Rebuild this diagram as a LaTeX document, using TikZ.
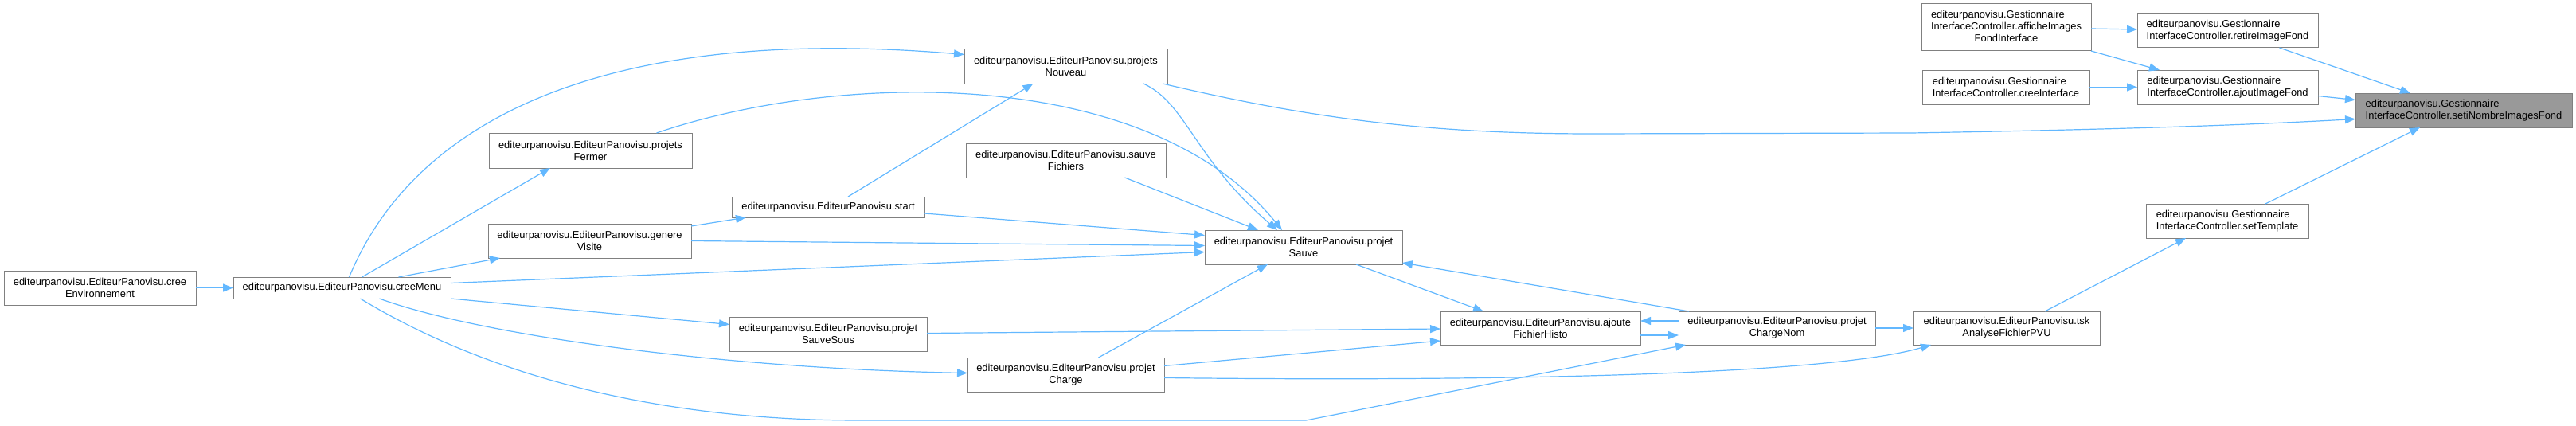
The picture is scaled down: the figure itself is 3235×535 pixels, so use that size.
\documentclass[tikz,border=0pt]{standalone}
\usepackage{fontspec}
\setmainfont{Liberation Sans}
\usepackage{xcolor}
\usepackage{tikz}
\usetikzlibrary{arrows.meta, calc}
\definecolor{callblue}{RGB}{99, 184, 255}
\definecolor{boxgray}{RGB}{128, 128, 128}
\definecolor{rootgray}{RGB}{153, 153, 153}

\begin{document}
\begin{tikzpicture}[x=1pt, y=-1pt,
  fn/.style={draw=boxgray, fill=white, line width=1pt, inner sep=0pt, outer sep=0pt,
    align=center, minimum height=43pt, font=\fontsize{12.9}{15}\selectfont},
  gest/.style={fn, align=left},
  root/.style={gest, fill=rootgray},
  call/.style={draw=callblue, line width=1.2pt, -{Triangle[length=13pt, width=10pt]}}]
\useasboundingbox (0,0) rectangle (3235,535);

\node[fn, minimum width=241pt] (creeEnv) at (125.5,361.5) {editeurpanovisu.EditeurPanovisu.cree\\Environnement};
\node[fn, minimum width=273pt, minimum height=27pt] (creeMenu) at (429.5,361.5) {editeurpanovisu.EditeurPanovisu.creeMenu};
\node[fn, minimum width=255pt, minimum height=44pt] (projetsFermer) at (741.5,189) {editeurpanovisu.EditeurPanovisu.projets\\Fermer};
\node[fn, minimum width=255pt] (genereVisite) at (740.5,302.5) {editeurpanovisu.EditeurPanovisu.genere\\Visite};
\node[fn, minimum width=242pt, minimum height=26pt] (start) at (1040,260) {editeurpanovisu.EditeurPanovisu.start};
\node[fn, minimum width=248pt] (projetSauveSous) at (1040,419.5) {editeurpanovisu.EditeurPanovisu.projet\\SauveSous};
\node[fn, minimum width=255pt] (projetsNouveau) at (1338.5,83.5) {editeurpanovisu.EditeurPanovisu.projets\\Nouveau};
\node[fn, minimum width=251pt] (sauveFichiers) at (1338.5,201.5) {editeurpanovisu.EditeurPanovisu.sauve\\Fichiers};
\node[fn, minimum width=247pt] (projetCharge) at (1338.5,470.5) {editeurpanovisu.EditeurPanovisu.projet\\Charge};
\node[fn, minimum width=248pt] (projetSauve) at (1637,310.5) {editeurpanovisu.EditeurPanovisu.projet\\Sauve};
\node[fn, minimum width=251pt, minimum height=42pt] (ajouteFichierHisto) at (1934.5,412) {editeurpanovisu.EditeurPanovisu.ajoute\\FichierHisto};
\node[fn, minimum width=247pt, minimum height=42pt] (projetChargeNom) at (2231.5,412) {editeurpanovisu.EditeurPanovisu.projet\\ChargeNom};
\node[fn, minimum width=234pt, minimum height=42pt] (tskAnalyse) at (2520,412) {editeurpanovisu.EditeurPanovisu.tsk\\AnalyseFichierPVU};
\node[gest, minimum width=204pt] (setTemplate) at (2797,277.5) {editeurpanovisu.Gestionnaire\\InterfaceController.setTemplate};
\node[fn, minimum width=213pt, minimum height=59pt] (afficheImages) at (2519.5,34.5) {\begin{tabular}{@{}l@{}}editeurpanovisu.Gestionnaire\\InterfaceController.afficheImages\\\multicolumn{1}{@{}c@{}}{FondInterface}\end{tabular}};
\node[gest, minimum width=210pt] (creeInterface) at (2519,109.5) {editeurpanovisu.Gestionnaire\\InterfaceController.creeInterface};
\node[gest, minimum width=227pt] (retireImageFond) at (2797.5,38.5) {editeurpanovisu.Gestionnaire\\InterfaceController.retireImageFond};
\node[gest, minimum width=227pt] (ajoutImageFond) at (2797.5,109.5) {editeurpanovisu.Gestionnaire\\InterfaceController.ajoutImageFond};
\node[root, minimum width=272pt] (setiNombre) at (3094,138.5) {editeurpanovisu.Gestionnaire\\InterfaceController.setiNombreImagesFond};

\draw[call] (creeEnv.east) -- (creeMenu.west);
\draw[call] ($(creeMenu.north)+(9,0)$) .. controls +(82,-198) and +(-451,-38) .. ($(projetsNouveau.west)+(0,-15)$);
\draw[call] ($(creeMenu.north)+(25,0)$) -- ($(projetsFermer.south west)+(77,0)$);
\draw[call] ($(creeMenu.north)+(71,0)$) -- ($(genereVisite.south west)+(15,0)$);
\draw[call] ($(creeMenu.east)+(0,-6)$) -- ($(projetSauve.west)+(0,6)$);
\draw[call] (creeMenu.south east) -- ($(projetSauveSous.west)+(0,-12)$);
\draw[call] ($(creeMenu.south)+(47,0)$) .. controls +(123,45) and +(-315,-6) .. ($(projetCharge.west)+(0,-2)$);
\draw[call] ($(creeMenu.south)+(23,0)$) .. controls +(107,65) and +(-320,0) .. (1080,528) -- (1640,528) -- ($(projetChargeNom.south west)+(9,0)$);
\draw[call] ($(genereVisite.north east)+(0,3)$) -- ($(start.south west)+(18,0)$);
\draw[call] (genereVisite.east) -- ($(projetSauve.west)+(0,-2)$);
\draw[call] ($(start.north)+(25,0)$) -- ($(projetsNouveau.south)+(-41,0)$);
\draw[call] ($(start.east)+(0,8)$) -- ($(projetSauve.west)+(0,-15)$);
\draw[call] ($(projetsFermer.north)+(83,0)$) .. controls +(225,-77) and +(-170,-209) .. ($(projetSauve.north west)+(97,0)$);
\draw[call] ($(projetsNouveau.south east)+(-30,0)$) .. controls +(54,25) and +(-104,-89) .. ($(projetSauve.north west)+(91,0)$);
\draw[call] ($(projetsNouveau.south east)+(-6,0)$) .. controls +(190,45) and +(-200,0) .. (2000,168) -- (2400,167) .. controls +(300,-5) and +(-110,6) .. ($(setiNombre.west)+(0,11)$);
\draw[call] ($(sauveFichiers.south)+(74,0)$) -- ($(projetSauve.north west)+(67,0)$);
\draw[call] ($(projetSauve.south)+(66,0)$) -- ($(ajouteFichierHisto.north west)+(54,0)$);
\draw[call] ($(projetSauveSous.east)+(0,-1)$) -- ($(ajouteFichierHisto.west)+(0,1)$);
\draw[call] ($(projetCharge.north)+(41,0)$) -- ($(projetSauve.south west)+(79,0)$);
\draw[call] ($(projetCharge.east)+(0,-11)$) -- ($(ajouteFichierHisto.west)+(0,16)$);
\draw[call] ($(projetCharge.east)+(0,4)$) .. controls +(438,5) and +(-125,37) .. ($(tskAnalyse.south west)+(22,0)$);
\draw[call] ($(ajouteFichierHisto.east)+(0,9)$) -- ($(projetChargeNom.west)+(0,9)$);
\draw[call] ($(projetChargeNom.west)+(0,-9)$) -- ($(ajouteFichierHisto.east)+(0,-9)$);
\draw[call] ($(projetChargeNom.north west)+(13,0)$) -- ($(projetSauve.south east)+(0,-2)$);
\draw[call] (projetChargeNom.east) -- (tskAnalyse.west);
\draw[call] ($(tskAnalyse.north)+(48,0)$) -- ($(setTemplate.south west)+(50,0)$);
\draw[call] ($(setTemplate.north)+(48,0)$) -- ($(setiNombre.south west)+(81,0)$);
\draw[call] ($(afficheImages.east)+(0,1.5)$) -- ($(retireImageFond.west)+(0,-1.5)$);
\draw[call] (afficheImages.south east) -- ($(ajoutImageFond.north west)+(28,0)$);
\draw[call] (creeInterface.east) -- (ajoutImageFond.west);
\draw[call] ($(retireImageFond.south)+(65,0)$) -- ($(setiNombre.north west)+(69,0)$);
\draw[call] ($(ajoutImageFond.east)+(0,11)$) -- ($(setiNombre.west)+(0,-13)$);
\end{tikzpicture}
\end{document}
